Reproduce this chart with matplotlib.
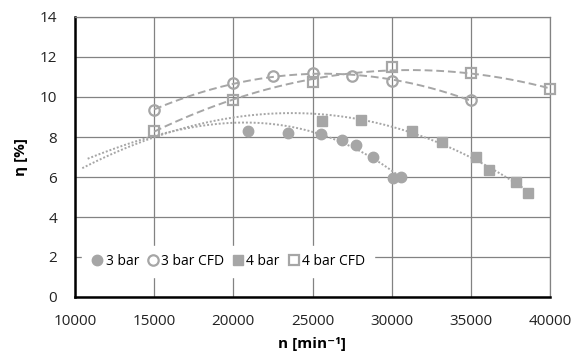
import numpy as np
import matplotlib.pyplot as plt

# ---------- Data ----------
n_3bar = [20900, 23430, 25530, 26840, 27720, 28830, 30060, 30560]
eta_3bar = [8.32, 8.18, 8.13, 7.85, 7.58, 6.98, 5.93, 6.02]

n_3bar_cfd = [15000, 20000, 22500, 25000, 27500, 30000, 35000]
eta_3bar_cfd = [9.35, 10.68, 11.05, 11.2, 11.05, 10.82, 9.85]

n_4bar = [25610, 28060, 31260, 33150, 35320, 36160, 37840, 38580]
eta_4bar = [8.82, 8.85, 8.3, 7.73, 6.98, 6.35, 5.77, 5.18]

n_4bar_cfd = [15000, 20000, 25000, 30000, 35000, 40000]
eta_4bar_cfd = [8.32, 9.85, 10.73, 11.5, 11.2, 10.38]

trend_n_3bar = [10800, 15000, 20700, 23400, 25500, 27700, 28800, 30500]
trend_eta_3bar = [6.88, 8.15, 8.63, 8.5, 8.15, 7.5, 7.0, 5.95]
trend_n_4bar = [10460, 15000, 20730, 23000, 25600, 28060, 31000, 33150, 35320, 38580]
trend_eta_4bar = [6.35, 8.2, 8.98, 9.15, 9.05, 8.85, 8.27, 7.73, 6.98, 5.2]

MARK = "#a6a6a6"
LINE = "#a6a6a6"
GRID = "#828282"

plt.rcParams["font.family"] = ["Open Sans", "DejaVu Sans"]

fig = plt.figure(figsize=(5.8, 3.59), dpi=100)
ax = fig.add_axes([75 / 580, 1 - 297 / 359, 475 / 580, 280 / 359])


def trend(x, y, deg, style):
    c = np.polyfit(x, y, deg)
    xs = np.linspace(min(x), max(x), 300)
    ax.plot(xs, np.polyval(c, xs), color=LINE, lw=1.4, ls=style, zorder=2)


trend(trend_n_3bar, trend_eta_3bar, 3, (0, (1, 1)))
trend(trend_n_4bar, trend_eta_4bar, 3, (0, (1, 1)))
trend(n_3bar_cfd, eta_3bar_cfd, 2, (0, (4, 2)))
trend(n_4bar_cfd, eta_4bar_cfd, 2, (0, (4, 2)))

ax.plot(n_3bar, eta_3bar, "o", ms=7.5, color=MARK, mec=MARK, ls="none", label="3 bar", zorder=3)
ax.plot(n_3bar_cfd, eta_3bar_cfd, "o", ms=7.5, mfc="none", mec=MARK, mew=1.6, ls="none",
        label="3 bar CFD", zorder=3, clip_on=False)
ax.plot(n_4bar, eta_4bar, "s", ms=7.5, color=MARK, mec=MARK, ls="none", label="4 bar", zorder=3)
ax.plot(n_4bar_cfd, eta_4bar_cfd, "s", ms=7.5, mfc="none", mec=MARK, mew=1.6, ls="none",
        label="4 bar CFD", zorder=3, clip_on=False)

ax.set_xlim(10000, 40000)
ax.set_ylim(0, 14)
ax.set_xticks(range(10000, 40001, 5000))
ax.set_yticks(range(0, 15, 2))
ax.grid(True, color=GRID, lw=0.9)
ax.set_axisbelow(True)
ax.tick_params(length=0, labelsize=11, colors="#222222")
ax.tick_params(axis="y", pad=13)
ax.tick_params(axis="x", pad=12)
for s in ["top", "right"]:
    ax.spines[s].set_color(GRID)
    ax.spines[s].set_linewidth(0.9)
for s in ["left", "bottom"]:
    ax.spines[s].set_color("black")
    ax.spines[s].set_linewidth(1.8)

ax.set_xlabel("n [min⁻¹]", fontsize=11, fontweight="bold", labelpad=6)
ax.set_ylabel("η [%]", fontsize=11, fontweight="bold", labelpad=8)

leg = ax.legend(loc="lower left", bbox_to_anchor=(0.0, 0.045), ncol=4, frameon=True,
                fontsize=10, handletextpad=0.1, columnspacing=0.5, handlelength=1.0,
                borderpad=0.6, fancybox=False)
leg.get_frame().set_facecolor("white")
leg.get_frame().set_edgecolor("white")
leg.get_frame().set_alpha(1)

fig.savefig("out.png", dpi=100)
